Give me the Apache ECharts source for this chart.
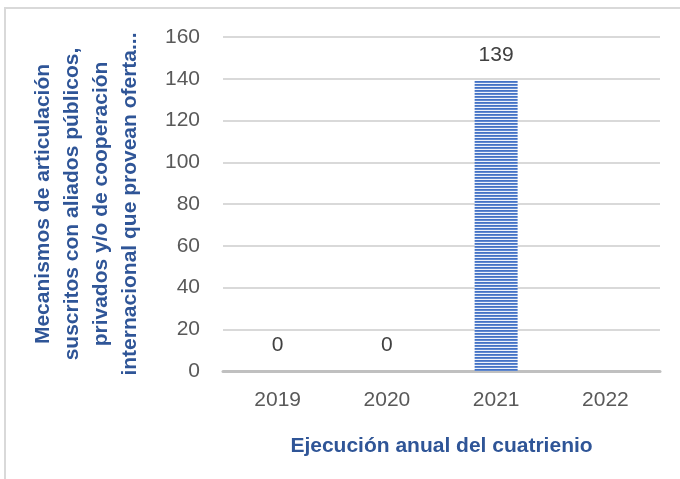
<!DOCTYPE html>
<html>
<head>
<meta charset="utf-8">
<script src="https://cdn.jsdelivr.net/npm/echarts@6/dist/echarts.min.js"></script>
<style>
  html, body { margin: 0; padding: 0; background: #fff; }
  #chart { width: 680px; height: 479px; }
</style>
</head>
<body>
<div id="chart"></div>
<script>
const years = ['2019', '2020', '2021', '2022']
const values = [0, 0, 139, null] // 2022 sin dato
const yMin = 0
const yMax = 160
const yStep = 20

const yTitle = 'Mecanismos de articulación\nsuscritos con aliados públicos,\nprivados y/o de cooperación\ninternacional que provean oferta...'
const xTitle = 'Ejecución anual del cuatrienio'

const font = 'Liberation Sans'
const titleBlue = '#2F5597'

// striped fill like the excel bar
function stripes() {
  const c = document.createElement('canvas')
  c.width = 4
  c.height = 3
  const ctx = c.getContext('2d')
  ctx.fillStyle = '#4472C4'
  ctx.fillRect(0, 0, 4, 1)
  ctx.fillStyle = '#5F88D0'
  ctx.fillRect(0, 1, 4, 1)
  ctx.fillStyle = '#EEF2FA'
  ctx.fillRect(0, 2, 4, 1)
  return c
}

const chart = echarts.init(document.getElementById('chart'), null, { renderer: 'canvas' })
chart.setOption({
  animation: false,
  textStyle: { fontFamily: font },
  grid: { left: 223, right: 20, top: 37, bottom: 108, containLabel: false },
  graphic: [
    {
      type: 'polyline',
      silent: true,
      shape: { points: [[5, 479], [5, 8], [680, 8]] },
      style: { stroke: '#D9D9D9', lineWidth: 2, fill: null }
    }
  ],
  xAxis: {
    type: 'category',
    data: years,
    name: xTitle,
    nameLocation: 'middle',
    nameGap: 65,
    nameTextStyle: { color: titleBlue, fontSize: 21, fontWeight: 'bold', fontFamily: font },
    axisLine: { lineStyle: { color: '#C0C0C0', width: 3 } },
    axisTick: { show: false },
    axisLabel: { color: '#595959', fontSize: 21, margin: 19 }
  },
  yAxis: {
    type: 'value',
    min: yMin,
    max: yMax,
    interval: yStep,
    name: yTitle,
    nameLocation: 'middle',
    nameRotate: 90,
    nameGap: 78,
    nameTextStyle: {
      color: titleBlue, fontSize: 21, fontWeight: 'bold', fontFamily: font,
      lineHeight: 29, align: 'center'
    },
    axisLine: { show: false },
    axisTick: { show: false },
    axisLabel: { color: '#595959', fontSize: 21, margin: 23 },
    splitLine: { lineStyle: { color: '#D9D9D9', width: 2 } }
  },
  series: [{
    type: 'bar',
    data: values,
    barWidth: 43,
    itemStyle: { color: { image: stripes(), repeat: 'repeat' } },
    label: {
      show: true,
      position: 'top',
      distance: 15,
      color: '#404040',
      fontSize: 21,
      fontFamily: font
    }
  }]
})
</script>
</body>
</html>
